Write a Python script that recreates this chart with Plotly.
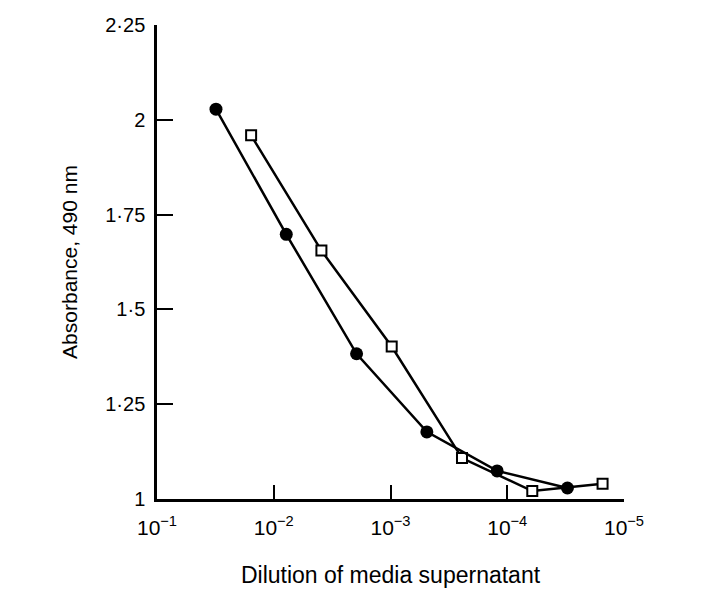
import plotly.graph_objects as go

# circles: dilution vs absorbance
circle_dilution = [1/32, 1/128, 1/512, 1/2048, 1/8192, 1/32768]
circle_absorb = [2.028, 1.698, 1.383, 1.177, 1.074, 1.029]

# open squares
square_dilution = [1/64, 1/256, 1/1024, 1/4096, 1/16384, 1/65536]
square_absorb = [1.959, 1.655, 1.402, 1.108, 1.021, 1.040]

x_tickvals = [1e-1, 1e-2, 1e-3, 1e-4, 1e-5]
x_ticktext = ["10<sup>\u22121</sup>", "10<sup>\u22122</sup>", "10<sup>\u22123</sup>",
              "10<sup>\u22124</sup>", "10<sup>\u22125</sup>"]
y_tickvals = [1, 1.25, 1.5, 1.75, 2, 2.25]
y_ticktext = ["1", "1\u00b725", "1\u00b75", "1\u00b775", "2", "2\u00b725"]

fig = go.Figure()
fig.add_trace(go.Scatter(
    x=square_dilution, y=square_absorb, mode="lines+markers",
    line=dict(color="black", width=2.5),
    marker=dict(symbol="square", size=10, color="white",
                line=dict(color="black", width=2)),
    cliponaxis=False, showlegend=False,
))
fig.add_trace(go.Scatter(
    x=circle_dilution, y=circle_absorb, mode="lines+markers",
    line=dict(color="black", width=2.5),
    marker=dict(symbol="circle", size=13, color="black"),
    cliponaxis=False, showlegend=False,
))

# page body has an 8px margin, so the figure is shrunk and offset to match
fig.update_layout(
    width=685, height=589,
    margin=dict(l=149, r=69, t=17, b=98),
    paper_bgcolor="white", plot_bgcolor="white",
    font=dict(family="Liberation Sans, Arial, sans-serif", size=18, color="black"),
)
fig.update_xaxes(
    type="log", range=[-1, -5], automargin=False,
    tickvals=x_tickvals, ticktext=x_ticktext,
    tickfont=dict(size=21), ticklabelstandoff=8,
    ticks="inside", ticklen=14, tickwidth=2, tickcolor="black",
    showline=True, linecolor="black", linewidth=2.5,
    showgrid=False, zeroline=False,
    title=dict(text="Dilution of media supernatant", font=dict(size=23), standoff=29),
)
fig.update_yaxes(
    range=[1, 2.25], automargin=False,
    tickvals=y_tickvals, ticktext=y_ticktext,
    tickfont=dict(size=20), ticklabelstandoff=5,
    ticks="inside", ticklen=16, tickwidth=2, tickcolor="black",
    showline=True, linecolor="black", linewidth=2.5,
    showgrid=False, zeroline=False,
    title=dict(text="Absorbance, 490 nm", font=dict(size=21), standoff=22),
)

fig.write_html("out.html")
